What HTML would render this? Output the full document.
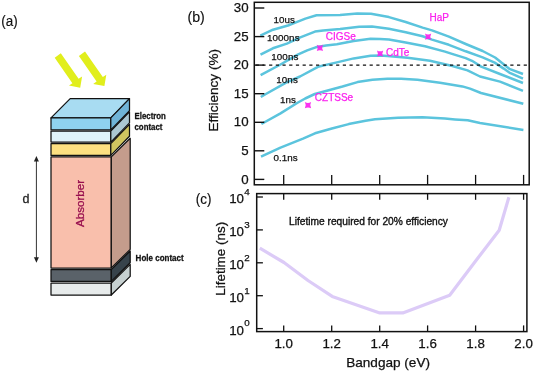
<!DOCTYPE html>
<html><head><meta charset="utf-8"><style>
html,body{margin:0;padding:0;background:#fff;}
body{width:534px;height:372px;overflow:hidden;}
svg{display:block;font-family:"Liberation Sans", sans-serif;will-change:transform;}
</style></head><body>
<svg width="534" height="372" viewBox="0 0 534 372">
<rect width="534" height="372" fill="#fff"/>
<polygon points="54.7,57.8 60.8,53.3 78.6,78.8 82.1,76.4 80.2,87.7 69.0,85.6 72.4,83.2" fill="#e1ee1c"/>
<polygon points="78.9,56.1 85.0,51.6 102.8,77.1 106.3,74.7 104.4,86.0 93.2,83.9 96.6,81.5" fill="#e1ee1c"/>
<rect x="51.0" y="283.0" width="60.3" height="12.0" fill="#e7ebeb" stroke="#111" stroke-width="1.25" stroke-linejoin="round"/>
<polygon points="111.3,283.0 130.2,264.4 130.2,276.4 111.3,295.0" fill="#c6d0d0" stroke="#111" stroke-width="1.25" stroke-linejoin="round"/>
<rect x="51.0" y="269.6" width="60.3" height="11.8" fill="#5a6269" stroke="#111" stroke-width="1.25" stroke-linejoin="round"/>
<polygon points="111.3,269.6 130.2,251.0 130.2,262.8 111.3,281.4" fill="#37434b" stroke="#111" stroke-width="1.25" stroke-linejoin="round"/>
<rect x="51.0" y="156.9" width="60.3" height="111.1" fill="#f9bfac" stroke="#111" stroke-width="1.25" stroke-linejoin="round"/>
<polygon points="111.3,156.9 130.2,138.3 130.2,249.4 111.3,268.0" fill="#c49c8c" stroke="#111" stroke-width="1.25" stroke-linejoin="round"/>
<rect x="51.0" y="143.6" width="59.8" height="11.8" fill="#fde081" stroke="#111" stroke-width="1.25" stroke-linejoin="round"/>
<polygon points="110.8,143.6 129.5,124.4 129.5,136.2 110.8,155.4" fill="#d0c560" stroke="#111" stroke-width="1.25" stroke-linejoin="round"/>
<rect x="51.0" y="131.0" width="59.8" height="11.1" fill="#e0f3fa" stroke="#111" stroke-width="1.25" stroke-linejoin="round"/>
<polygon points="110.8,131.0 129.5,111.8 129.5,122.9 110.8,142.1" fill="#abc7d2" stroke="#111" stroke-width="1.25" stroke-linejoin="round"/>
<polygon points="51.0,117.9 70.2,98.6 129.5,98.6 110.8,117.9" fill="#a8dcf2" stroke="#111" stroke-width="1.25" stroke-linejoin="round"/>
<rect x="51.0" y="117.9" width="59.8" height="12.0" fill="#8fd2ef" stroke="#111" stroke-width="1.25" stroke-linejoin="round"/>
<polygon points="110.8,117.9 129.5,98.6 129.5,110.6 110.8,129.9" fill="#70b4d7" stroke="#111" stroke-width="1.25" stroke-linejoin="round"/>
<text transform="translate(84.2,203.5) rotate(-90)" text-anchor="middle" font-size="11.6" fill="#98104f" stroke="#98104f" stroke-width="0.3">Absorber</text>
<line x1="36.4" y1="160" x2="36.4" y2="258.5" stroke="#333" stroke-width="1"/>
<polygon points="36.4,156 33.9,161.5 38.9,161.5" fill="#222"/>
<polygon points="36.4,262.7 33.9,257.2 38.9,257.2" fill="#222"/>
<text x="22.6" y="202.8" font-size="12.5" fill="#222" stroke="#222" stroke-width="0.3">d</text>
<text transform="translate(134.5,119.1) scale(0.97,1.06)" font-size="8.1" font-weight="bold" fill="#111" stroke="#111" stroke-width="0.25">Electron</text>
<text transform="translate(134.5,130.4) scale(0.97,1.06)" font-size="8.1" font-weight="bold" fill="#111" stroke="#111" stroke-width="0.25">contact</text>
<text transform="translate(135.6,260.6) scale(0.99,1.06)" font-size="8.1" font-weight="bold" fill="#111" stroke="#111" stroke-width="0.25">Hole contact</text>
<text transform="translate(1.2,25.6) scale(0.93,1)" font-size="14.5" fill="#111" stroke="#111" stroke-width="0.15">(a)</text>
<text transform="translate(187.4,22.0) scale(0.98,1)" font-size="14.5" fill="#111" stroke="#111" stroke-width="0.15">(b)</text>
<text transform="translate(195.7,203.6) scale(0.93,1)" font-size="14.5" fill="#111" stroke="#111" stroke-width="0.15">(c)</text>
<polyline points="260.3,35.7 273.0,29.7 288.0,25.5 295.3,22.6 305.4,18.6 316.5,15.3 340.0,15.1 357.2,13.4 371.0,13.8 388.9,17.1 405.7,22.0 422.6,27.6 432.0,30.4 448.9,36.7 465.7,44.0 482.6,51.0 495.1,57.5 509.3,68.8 523.0,74.0" fill="none" stroke="#5bc4dd" stroke-width="2.5" stroke-linejoin="round" stroke-linecap="butt"/>
<polyline points="260.5,54.6 272.9,48.3 286.9,43.6 300.3,37.4 315.0,31.6 323.2,30.4 340.1,29.1 359.2,26.8 372.0,26.5 388.9,28.8 405.7,32.2 422.6,36.3 432.0,39.6 448.9,44.8 465.7,51.3 482.6,57.4 494.7,62.6 503.7,68.6 509.3,72.6 523.0,78.6" fill="none" stroke="#5bc4dd" stroke-width="2.5" stroke-linejoin="round" stroke-linecap="butt"/>
<polyline points="260.6,75.2 280.5,64.5 297.7,54.7 307.2,50.4 315.7,47.3 326.0,45.5 336.9,44.3 353.7,41.1 370.6,38.8 380.0,38.9 388.9,39.6 405.7,42.6 425.0,46.2 445.0,51.6 452.0,53.9 465.7,58.1 472.0,60.8 481.2,66.6 500.0,74.0 523.0,83.0" fill="none" stroke="#5bc4dd" stroke-width="2.5" stroke-linejoin="round" stroke-linecap="butt"/>
<polyline points="260.8,97.0 265.9,94.0 286.1,82.6 300.0,76.5 318.0,66.8 336.9,62.4 353.7,58.4 370.6,55.7 380.0,55.4 387.5,55.9 407.5,57.7 430.0,60.8 452.4,66.0 467.5,70.4 480.0,76.5 500.0,81.6 523.0,90.8" fill="none" stroke="#5bc4dd" stroke-width="2.5" stroke-linejoin="round" stroke-linecap="butt"/>
<polyline points="261.4,124.0 280.5,113.4 297.1,103.0 305.2,98.5 314.8,94.0 325.0,91.2 342.5,86.5 357.5,82.1 372.4,79.8 387.4,78.8 401.1,78.8 417.5,79.8 440.0,82.7 462.4,86.4 470.0,88.6 481.0,93.0 523.3,103.8" fill="none" stroke="#5bc4dd" stroke-width="2.5" stroke-linejoin="round" stroke-linecap="butt"/>
<polyline points="261.0,156.6 280.5,147.6 303.0,138.6 315.0,133.3 331.9,128.5 348.7,124.1 365.6,120.7 375.0,119.3 398.0,117.8 422.4,117.3 445.0,118.5 455.0,119.4 467.7,120.3 480.0,123.0 523.4,130.0" fill="none" stroke="#5bc4dd" stroke-width="2.5" stroke-linejoin="round" stroke-linecap="butt"/>
<line x1="255.7" y1="65.1" x2="529.2" y2="65.1" stroke="#111" stroke-width="1.3" stroke-dasharray="3.2,3.5"/>
<rect x="254.3" y="2.3" width="274.9" height="182.5" fill="none" stroke="#111" stroke-width="1.5"/>
<line x1="254.3" y1="179.4" x2="264.3" y2="179.4" stroke="#111" stroke-width="1.4"/>
<text stroke="#111" stroke-width="0.25" x="248.6" y="183.5" font-size="13.3" text-anchor="end" fill="#111">0</text>
<line x1="254.3" y1="150.8" x2="264.3" y2="150.8" stroke="#111" stroke-width="1.4"/>
<text stroke="#111" stroke-width="0.25" x="248.6" y="154.9" font-size="13.3" text-anchor="end" fill="#111">5</text>
<line x1="254.3" y1="122.3" x2="264.3" y2="122.3" stroke="#111" stroke-width="1.4"/>
<text stroke="#111" stroke-width="0.25" x="248.6" y="126.4" font-size="13.3" text-anchor="end" fill="#111">10</text>
<line x1="254.3" y1="93.7" x2="264.3" y2="93.7" stroke="#111" stroke-width="1.4"/>
<text stroke="#111" stroke-width="0.25" x="248.6" y="97.8" font-size="13.3" text-anchor="end" fill="#111">15</text>
<line x1="254.3" y1="65.1" x2="264.3" y2="65.1" stroke="#111" stroke-width="1.4"/>
<text stroke="#111" stroke-width="0.25" x="248.6" y="69.2" font-size="13.3" text-anchor="end" fill="#111">20</text>
<line x1="254.3" y1="36.6" x2="264.3" y2="36.6" stroke="#111" stroke-width="1.4"/>
<text stroke="#111" stroke-width="0.25" x="248.6" y="40.7" font-size="13.3" text-anchor="end" fill="#111">25</text>
<line x1="254.3" y1="8.0" x2="264.3" y2="8.0" stroke="#111" stroke-width="1.4"/>
<text stroke="#111" stroke-width="0.25" x="248.6" y="12.1" font-size="13.3" text-anchor="end" fill="#111">30</text>
<line x1="283.7" y1="184.8" x2="283.7" y2="174.9" stroke="#111" stroke-width="1.3"/>
<line x1="331.7" y1="184.8" x2="331.7" y2="174.9" stroke="#111" stroke-width="1.3"/>
<line x1="379.7" y1="184.8" x2="379.7" y2="174.9" stroke="#111" stroke-width="1.3"/>
<line x1="427.6" y1="184.8" x2="427.6" y2="174.9" stroke="#111" stroke-width="1.3"/>
<line x1="475.6" y1="184.8" x2="475.6" y2="174.9" stroke="#111" stroke-width="1.3"/>
<line x1="523.6" y1="184.8" x2="523.6" y2="174.9" stroke="#111" stroke-width="1.3"/>
<text stroke="#111" stroke-width="0.25" transform="translate(218.4,90.3) rotate(-90)" text-anchor="middle" font-size="13.55" fill="#111">Efficiency (%)</text>
<text stroke="#111" stroke-width="0.25" x="273.5" y="23.0" font-size="9.8" letter-spacing="0.08" fill="#111">10us</text>
<text stroke="#111" stroke-width="0.25" x="267.0" y="41.3" font-size="9.8" letter-spacing="0.08" fill="#111">1000ns</text>
<text stroke="#111" stroke-width="0.25" x="271.3" y="59.6" font-size="9.8" letter-spacing="0.08" fill="#111">100ns</text>
<text stroke="#111" stroke-width="0.25" x="276.3" y="82.9" font-size="9.8" letter-spacing="0.08" fill="#111">10ns</text>
<text stroke="#111" stroke-width="0.25" x="280.0" y="103.2" font-size="9.8" letter-spacing="0.08" fill="#111">1ns</text>
<text stroke="#111" stroke-width="0.25" x="273.4" y="161.1" font-size="9.8" letter-spacing="0.08" fill="#111">0.1ns</text>
<text stroke="#fa22ee" stroke-width="0.25" x="429.5" y="20.6" font-size="10" fill="#fa22ee">HaP</text>
<text stroke="#fa22ee" stroke-width="0.25" x="325.8" y="39.7" font-size="10" fill="#fa22ee">CIGSe</text>
<text stroke="#fa22ee" stroke-width="0.25" x="386.0" y="56.1" font-size="10" fill="#fa22ee">CdTe</text>
<text stroke="#fa22ee" stroke-width="0.25" x="314.8" y="101.2" font-size="10" fill="#fa22ee">CZTSSe</text>
<path fill="#fa22ee" fill-opacity="0.92" d="M425.00,33.60 Q428.10,35.30 431.20,33.60 Q429.50,36.70 431.20,39.80 Q428.10,38.10 425.00,39.80 Q426.70,36.70 425.00,33.60 Z"/>
<path fill="#fa22ee" fill-opacity="0.92" d="M316.80,44.80 Q319.90,46.50 323.00,44.80 Q321.30,47.90 323.00,51.00 Q319.90,49.30 316.80,51.00 Q318.50,47.90 316.80,44.80 Z"/>
<path fill="#fa22ee" fill-opacity="0.92" d="M377.00,50.50 Q380.10,52.20 383.20,50.50 Q381.50,53.60 383.20,56.70 Q380.10,55.00 377.00,56.70 Q378.70,53.60 377.00,50.50 Z"/>
<path fill="#fa22ee" fill-opacity="0.92" d="M304.90,102.10 Q308.00,103.80 311.10,102.10 Q309.40,105.20 311.10,108.30 Q308.00,106.60 304.90,108.30 Q306.60,105.20 304.90,102.10 Z"/>
<polyline points="259.8,248.2 284.0,262.5 308.0,280.5 332.2,296.4 379.8,312.9 402.8,312.9 449.7,295.3 476.0,260.5 499.2,230.3 508.9,197.2" fill="none" stroke="#dccbf7" stroke-width="3.2" stroke-linejoin="round"/>
<rect x="256.7" y="193.6" width="270.2" height="138.0" fill="none" stroke="#111" stroke-width="1.5"/>
<line x1="256.7" y1="328.6" x2="262.9" y2="328.6" stroke="#111" stroke-width="1.3"/>
<text stroke="#111" stroke-width="0.25" x="244.0" y="335.0" font-size="13.3" text-anchor="end" fill="#111">10</text>
<text stroke="#111" stroke-width="0.25" x="244.3" y="326.4" font-size="9.8" fill="#111">0</text>
<line x1="256.7" y1="295.7" x2="262.9" y2="295.7" stroke="#111" stroke-width="1.3"/>
<text stroke="#111" stroke-width="0.25" x="244.0" y="302.1" font-size="13.3" text-anchor="end" fill="#111">10</text>
<text stroke="#111" stroke-width="0.25" x="244.3" y="293.5" font-size="9.8" fill="#111">1</text>
<line x1="256.7" y1="262.8" x2="262.9" y2="262.8" stroke="#111" stroke-width="1.3"/>
<text stroke="#111" stroke-width="0.25" x="244.0" y="269.2" font-size="13.3" text-anchor="end" fill="#111">10</text>
<text stroke="#111" stroke-width="0.25" x="244.3" y="260.6" font-size="9.8" fill="#111">2</text>
<line x1="256.7" y1="229.9" x2="262.9" y2="229.9" stroke="#111" stroke-width="1.3"/>
<text stroke="#111" stroke-width="0.25" x="244.0" y="236.3" font-size="13.3" text-anchor="end" fill="#111">10</text>
<text stroke="#111" stroke-width="0.25" x="244.3" y="227.7" font-size="9.8" fill="#111">3</text>
<line x1="256.7" y1="197.0" x2="262.9" y2="197.0" stroke="#111" stroke-width="1.3"/>
<text stroke="#111" stroke-width="0.25" x="244.0" y="203.4" font-size="13.3" text-anchor="end" fill="#111">10</text>
<text stroke="#111" stroke-width="0.25" x="244.3" y="194.8" font-size="9.8" fill="#111">4</text>
<line x1="283.7" y1="193.6" x2="283.7" y2="199.8" stroke="#111" stroke-width="1.3"/>
<line x1="283.7" y1="331.6" x2="283.7" y2="325.4" stroke="#111" stroke-width="1.3"/>
<text stroke="#111" stroke-width="0.25" x="283.7" y="347.8" font-size="13.3" text-anchor="middle" fill="#111">1.0</text>
<line x1="331.7" y1="193.6" x2="331.7" y2="199.8" stroke="#111" stroke-width="1.3"/>
<line x1="331.7" y1="331.6" x2="331.7" y2="325.4" stroke="#111" stroke-width="1.3"/>
<text stroke="#111" stroke-width="0.25" x="331.7" y="347.8" font-size="13.3" text-anchor="middle" fill="#111">1.2</text>
<line x1="379.7" y1="193.6" x2="379.7" y2="199.8" stroke="#111" stroke-width="1.3"/>
<line x1="379.7" y1="331.6" x2="379.7" y2="325.4" stroke="#111" stroke-width="1.3"/>
<text stroke="#111" stroke-width="0.25" x="379.7" y="347.8" font-size="13.3" text-anchor="middle" fill="#111">1.4</text>
<line x1="427.6" y1="193.6" x2="427.6" y2="199.8" stroke="#111" stroke-width="1.3"/>
<line x1="427.6" y1="331.6" x2="427.6" y2="325.4" stroke="#111" stroke-width="1.3"/>
<text stroke="#111" stroke-width="0.25" x="427.6" y="347.8" font-size="13.3" text-anchor="middle" fill="#111">1.6</text>
<line x1="475.6" y1="193.6" x2="475.6" y2="199.8" stroke="#111" stroke-width="1.3"/>
<line x1="475.6" y1="331.6" x2="475.6" y2="325.4" stroke="#111" stroke-width="1.3"/>
<text stroke="#111" stroke-width="0.25" x="475.6" y="347.8" font-size="13.3" text-anchor="middle" fill="#111">1.8</text>
<line x1="523.6" y1="193.6" x2="523.6" y2="199.8" stroke="#111" stroke-width="1.3"/>
<line x1="523.6" y1="331.6" x2="523.6" y2="325.4" stroke="#111" stroke-width="1.3"/>
<text stroke="#111" stroke-width="0.25" x="523.6" y="347.8" font-size="13.3" text-anchor="middle" fill="#111">2.0</text>
<text stroke="#111" stroke-width="0.25" transform="translate(225.4,258.8) rotate(-90)" text-anchor="middle" font-size="13.45" fill="#111">Lifetime (ns)</text>
<text x="289.0" y="225.2" font-size="10.2" fill="#111" stroke="#111" stroke-width="0.35">Lifetime required for 20% efficiency</text>
<text stroke="#111" stroke-width="0.25" x="388.1" y="367.0" font-size="13.6" text-anchor="middle" fill="#111">Bandgap (eV)</text>
</svg>
</body></html>
